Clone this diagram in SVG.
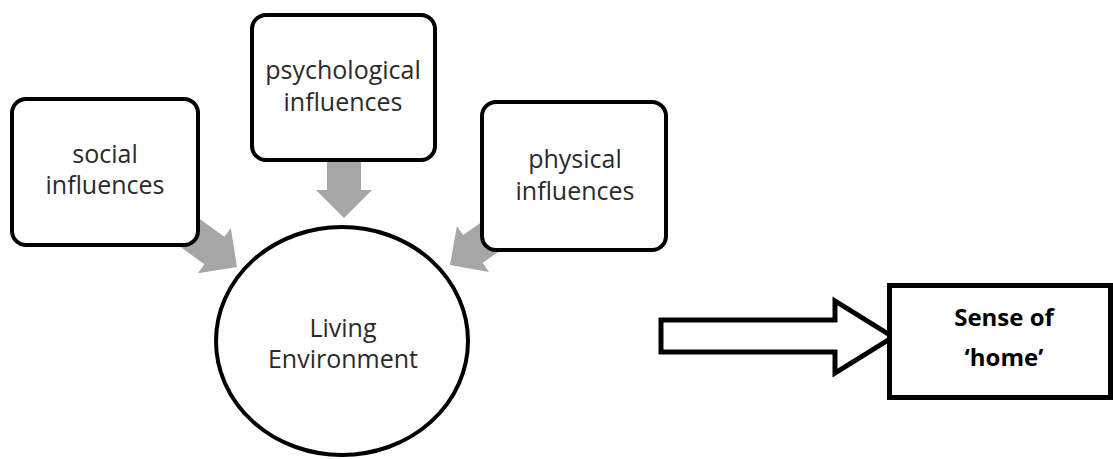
<svg xmlns="http://www.w3.org/2000/svg" width="1113" height="459" viewBox="0 0 1113 459">
<style>
.box{fill:#fff;stroke:#000;stroke-width:4}
.lbl{font-family:"Open Sans","Noto Sans",sans-serif;font-size:25px;fill:#2a2a2a;text-anchor:middle}
.bold{font-family:"Open Sans","Noto Sans",sans-serif;font-size:24px;font-weight:bold;fill:#000;text-anchor:middle}
.garrow{fill:#a6a6a6;stroke:none}
</style>
<defs>
<polygon id="ga" points="-75,-17 -28,-17 -28,-28 0,0 -28,28 -28,17 -75,17"/>
</defs>
<rect width="1113" height="459" fill="#fff"/>
<g id="connectors">
<use href="#ga" class="garrow" transform="translate(237,267) rotate(36)"/>
<use href="#ga" class="garrow" transform="translate(344,218) rotate(90)"/>
<use href="#ga" class="garrow" transform="translate(450,265) rotate(145)"/>
<polygon points="661,320 835,320 835,301 893,337 835,373 835,352 661,352" fill="#fff" stroke="#000" stroke-width="5" stroke-miterlimit="10"/>
</g>
<g id="social">
<rect class="box" x="12" y="99" width="186" height="146" rx="14"/>
<text class="lbl" x="105" y="163">social</text>
<text class="lbl" x="105" y="194">influences</text>
</g>
<g id="psychological">
<rect class="box" x="252" y="15" width="183" height="145" rx="14"/>
<text class="lbl" x="343" y="79">psychological</text>
<text class="lbl" x="343" y="111">influences</text>
</g>
<g id="physical">
<rect class="box" x="482" y="102" width="184" height="148" rx="14"/>
<text class="lbl" x="575" y="168">physical</text>
<text class="lbl" x="575" y="200">influences</text>
</g>
<g id="living">
<ellipse cx="342" cy="341" rx="126" ry="114" fill="#fff" stroke="#000" stroke-width="4"/>
<text class="lbl" x="343" y="337">Living</text>
<text class="lbl" x="343" y="368">Environment</text>
</g>
<g id="home">
<rect x="889.5" y="285.5" width="221" height="112" fill="#fff" stroke="#000" stroke-width="5"/>
<text class="bold" x="1004" y="326">Sense of</text>
<text class="bold" x="1004" y="366">‘home’</text>
</g>
</svg>
